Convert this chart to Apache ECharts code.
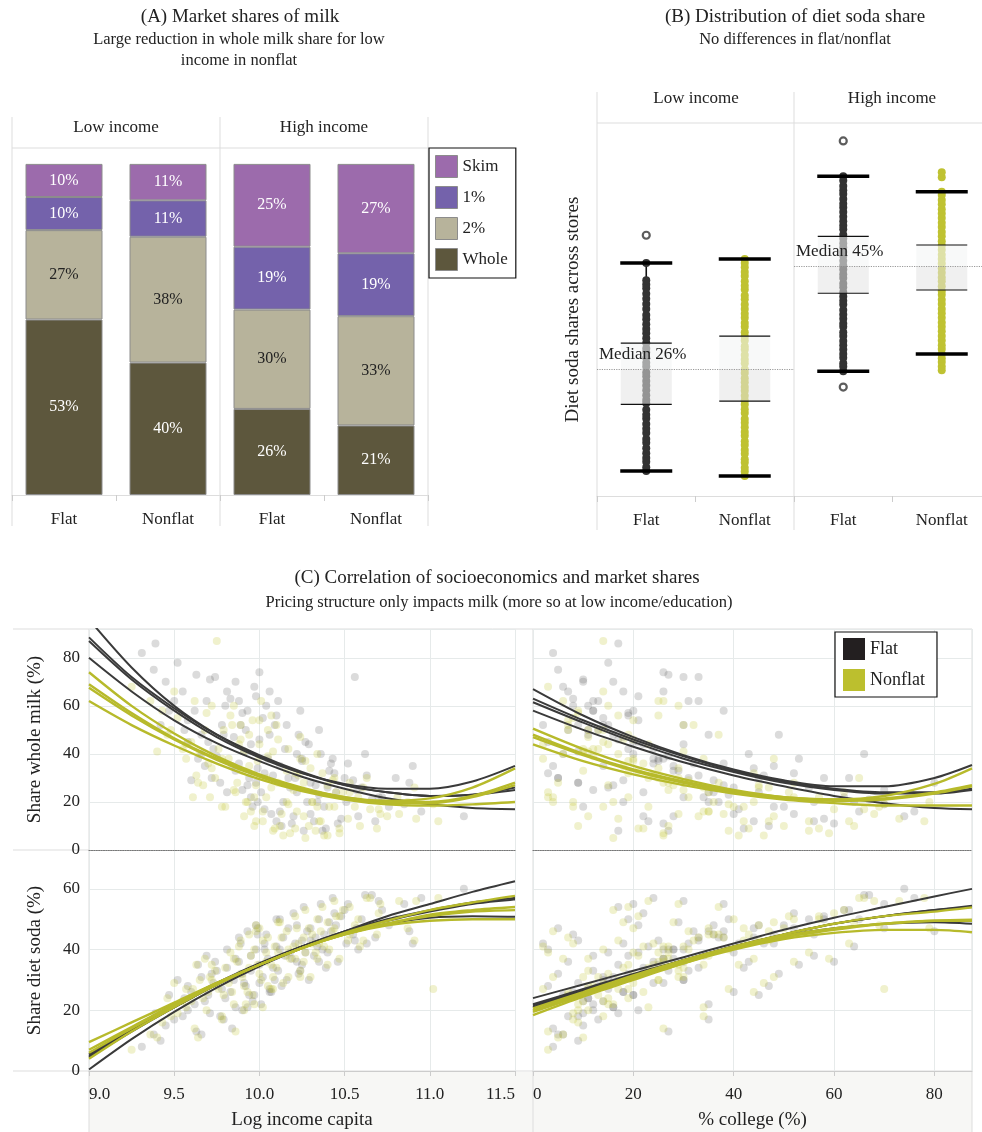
<!DOCTYPE html>
<html><head><meta charset="utf-8">
<script src="https://cdn.jsdelivr.net/npm/echarts@6/dist/echarts.min.js"></script>
<style>html,body{margin:0;padding:0;background:#fff}#c{width:982px;height:1132px}</style>
</head><body><div id="c"></div><script>
const FONT = '"Liberation Serif","Times New Roman",serif';

// ---------- Panel A data ----------
const pricing = ['Flat', 'Nonflat'];
const milkTypes = ['Whole', '2%', '1%', 'Skim'];
const milkLowIncome = [[53, 40], [27, 38], [10, 11], [10, 11]];   // by milkTypes, [Flat, Nonflat]
const milkHighIncome = [[26, 21], [30, 33], [19, 19], [25, 27]];
const milkColors = ['#5d573d', '#b7b39b', '#7462ab', '#9c6bac'];
const milkLabelColors = ['#ffffff', '#222222', '#ffffff', '#ffffff'];

// ---------- Panel B data ----------
const medianLow = 26, medianHigh = 45;
// [min, q1, median, q3, max] for Flat, Nonflat
const sodaBoxLow = [[7.2, 19.5, 26, 30.8, 45.6], [6.3, 20.1, 26, 32.1, 46.3]];
const sodaBoxHigh = [[25.6, 40.0, 45, 50.5, 61.6], [28.8, 40.6, 45, 48.9, 58.7]];
const lowFlatStrip = [7.2, 7.9, 8.9, 9.6, 10.5, 11.4, 12.4, 13.1, 14.2, 15.0, 15.9, 16.9, 17.6, 18.5, 19.7, 20.3, 21.2, 22.1, 23.0, 23.8, 24.7, 25.4, 26.5, 27.2, 28.1, 29.1, 29.8, 30.8, 31.7, 32.6, 33.4, 34.3, 35.2, 36.0, 37.1, 38.0, 39.0, 39.9, 40.9, 41.6, 42.4, 45.6];
const lowFlatOut = [50.7];
const lowNonflatStrip = [6.3, 7.1, 7.8, 8.8, 9.4, 10.4, 11.1, 12.0, 12.7, 13.7, 14.4, 15.3, 16.1, 16.8, 17.9, 18.6, 19.5, 20.2, 21.1, 22.0, 22.7, 23.6, 24.3, 25.3, 26.0, 27.1, 27.8, 28.6, 29.6, 30.2, 31.3, 32.0, 32.8, 33.8, 34.5, 35.5, 36.2, 37.1, 37.9, 38.9, 39.6, 40.7, 41.4, 42.2, 43.2, 43.9, 44.8, 45.6, 46.3];
const highFlatStrip = [25.6, 26.5, 27.1, 28.1, 28.8, 29.6, 30.4, 31.2, 32.1, 32.8, 33.8, 34.4, 35.3, 36.1, 36.9, 37.9, 38.6, 39.4, 40.2, 41.1, 41.8, 42.8, 43.5, 44.4, 45.1, 46.0, 46.9, 47.6, 48.5, 49.2, 50.1, 50.8, 51.8, 52.5, 53.3, 54.1, 55.0, 55.8, 56.5, 57.4, 58.3, 59.0, 59.8, 60.8, 61.6];
const highFlatOut = [68.1, 22.7];
const highNonflatStrip = [25.8, 26.5, 27.3, 28.0, 28.8, 29.7, 30.4, 31.3, 32.1, 33.0, 33.8, 34.6, 35.5, 36.3, 37.1, 38.0, 38.8, 39.7, 40.4, 41.3, 42.2, 42.9, 43.8, 44.6, 45.5, 46.3, 47.1, 48.0, 48.8, 49.6, 50.5, 51.3, 52.2, 53.0, 53.9, 54.7, 55.5, 56.4, 57.2, 58.1, 58.7, 61.4, 62.3];

// ---------- Panel C data ----------
// stores: [log income per capita, % college, whole milk share, diet soda share]
const flatStores = [
[9.62,12,58,22],[9.85,18,47,30],[10.05,26,38,37],[9.95,22,44,33],[10.21,31,30,42],[9.78,15,52,27],[10.33,38,27,44],[9.91,9,41,29],
[10.12,28,35,40],[9.55,7,66,18],[10.45,45,24,48],[9.70,20,45,25],[10.02,14,55,31],[10.28,35,20,46],[9.88,24,36,36],[10.60,55,26,50],
[9.45,10,70,15],[10.15,19,42,38],[9.98,30,28,40],[10.38,48,18,45],[9.80,11,60,24],[10.08,33,31,34],[9.66,16,48,31],[10.25,25,37,43],
[10.72,62,22,53],[9.92,13,50,28],[10.18,40,26,39],[9.58,21,54,20],[10.41,29,33,49],[10.00,17,46,35],[9.75,27,39,33],[10.30,52,15,47],
[9.83,8,63,26],[10.55,36,29,45],[10.10,23,12,41],[9.38,5,75,12],[10.85,70,19,55],[9.95,34,22,38],[10.22,43,40,36],[9.68,14,35,23],
[10.48,58,13,51],[9.90,19,57,32],[10.06,11,48,27],[10.35,39,23,50],[9.73,24,42,29],[10.95,76,16,57],[9.50,13,62,17],[10.14,37,20,44],
[9.86,28,33,37],[10.63,46,31,42],[9.97,6,68,25],[10.27,21,45,39],[9.60,18,29,26],[10.42,32,36,46],[10.03,41,17,42],[9.81,22,24,34],
[11.20,74,14,60],[9.42,9,52,10],[10.19,26,11,37],[10.50,63,30,53],[9.93,16,27,21],[10.76,50,18,48],[9.31,4,82,8],[10.09,30,52,30],
[9.71,10,71,19],[10.37,27,8,40],[9.99,44,34,47],[10.66,67,21,58],[9.64,25,38,35],[10.24,12,58,33],[9.39,17,86,19],[10.56,33,72,43],
[9.52,15,78,30],[9.66,6,40,12],[9.74,30,72,36],[9.77,9,28,18],[9.81,26,66,40],[9.84,4,35,14],[9.88,33,62,44],[9.90,12,25,20],
[9.93,38,58,46],[9.96,10,18,23],[9.98,21,64,48],[10.01,35,24,22],[10.04,8,60,45],[10.07,40,15,26],[10.10,19,56,50],[10.13,47,10,28],
[10.16,14,52,30],[10.20,22,14,52],[10.23,49,48,32],[10.26,17,8,54],[10.29,30,44,30],[10.32,56,12,38],[10.36,20,40,55],[10.39,42,9,34],
[10.43,24,38,57],[10.46,60,11,36],[10.52,38,36,55],[10.58,28,14,40],[10.62,66,40,58],[10.68,44,12,44],[10.80,58,30,50],[10.90,48,35,42],
[9.58,3,45,28],[9.63,27,73,13],[9.69,12,62,38],[9.72,5,30,32],[9.79,35,48,17],[9.86,16,70,21],[9.89,2,52,42],[9.94,45,30,25],
[10.00,26,74,29],[10.03,3,32,40],[10.11,31,62,33],[10.17,5,30,47],[10.22,36,24,48],[10.25,53,38,35],[10.30,9,28,43],[10.34,64,20,41],
[10.40,15,26,39],[10.44,52,32,52],[10.51,18,20,42],[10.57,70,25,47],[10.70,30,22,56],[10.88,80,28,46],[9.47,20,58,25],[9.56,11,50,24],
[9.99,56,20,45],[10.06,18,66,26],[10.12,65,16,50],[10.35,7,50,36]
];
const nonflatStores = [
[9.60,14,45,23],[9.82,20,38,29],[10.04,25,30,36],[9.94,18,35,34],[10.20,30,25,41],[9.76,12,42,27],[10.31,36,20,45],[9.90,10,33,31],
[10.11,27,28,39],[9.52,8,55,19],[10.44,42,18,47],[9.70,22,36,26],[10.00,15,44,32],[10.26,33,14,44],[9.87,26,28,36],[10.58,52,22,50],
[9.43,9,58,16],[10.16,21,33,38],[9.97,31,22,40],[10.36,47,12,46],[9.79,13,50,25],[10.07,34,26,35],[9.65,17,40,30],[10.23,24,31,42],
[10.70,60,17,52],[9.91,11,41,28],[10.17,39,19,40],[9.57,23,44,21],[10.40,28,27,49],[9.99,19,37,35],[9.74,29,30,33],[10.29,50,10,47],
[9.84,7,52,26],[10.53,35,24,45],[10.09,22,9,41],[9.36,6,62,12],[10.82,68,15,56],[9.95,35,16,38],[10.21,44,32,37],[9.67,15,27,24],
[10.47,57,9,51],[9.89,20,46,32],[10.05,12,39,28],[10.34,40,18,50],[9.72,25,34,30],[10.92,73,13,56],[9.48,14,50,18],[10.13,38,15,44],
[9.85,27,25,37],[10.61,45,26,43],[9.96,7,54,25],[10.27,20,37,39],[9.61,19,22,27],[10.43,31,29,46],[10.02,42,12,43],[9.80,23,18,34],
[11.05,78,12,57],[9.40,10,41,11],[10.18,26,7,37],[10.49,62,24,53],[9.92,16,20,22],[10.75,48,14,49],[9.25,3,68,7],[10.08,30,41,31],
[9.69,9,57,20],[10.38,26,6,41],[9.98,45,27,48],[10.65,66,17,57],[9.63,24,31,35],[10.24,11,47,33],[9.75,14,87,28],[11.02,70,19,27],
[9.50,14,66,29],[9.64,5,28,11],[9.72,29,60,35],[9.78,8,18,17],[9.83,25,56,39],[9.86,3,24,13],[9.89,32,52,43],[9.91,11,14,20],
[9.94,37,48,45],[9.97,9,10,22],[10.00,20,54,47],[10.02,34,16,21],[10.05,7,50,44],[10.08,39,8,27],[10.11,18,46,49],[10.14,46,6,29],
[10.17,13,42,31],[10.21,21,9,51],[10.24,48,38,31],[10.27,16,5,53],[10.30,29,34,31],[10.33,55,8,39],[10.37,19,32,54],[10.40,41,6,35],
[10.44,23,30,56],[10.47,59,7,37],[10.53,37,28,54],[10.59,27,10,41],[10.63,65,30,57],[10.69,43,9,45],[10.81,57,22,50],[10.91,47,26,43],
[9.57,2,38,27],[9.62,26,62,14],[9.68,11,50,37],[9.71,4,22,31],[9.78,34,38,18],[9.85,15,60,22],[9.88,2,44,41],[9.93,44,20,26],
[10.01,25,62,30],[10.04,3,22,39],[10.10,30,52,34],[10.16,4,20,46],[10.22,35,16,47],[10.26,52,28,36],[10.31,8,20,42],[10.35,63,12,42],
[10.41,14,18,40],[10.45,51,24,51],[10.52,17,13,43],[10.56,69,18,48],[10.71,29,15,55],[10.87,79,20,47],[9.46,19,48,24],[9.55,10,42,23],
[9.98,55,12,46],[10.07,17,56,27],[10.12,64,10,49],[10.34,6,40,37]
];
// fitted curves read at these x positions
const incomeKnots = [9.0, 9.25, 9.5, 9.75, 10.0, 10.25, 10.5, 10.75, 11.0, 11.25, 11.5];
const collegeKnots = [0, 10, 20, 30, 40, 50, 60, 70, 80, 87.5];
const wholeIncomeFlat = [
  [96, 76, 60, 48, 39, 32, 27.5, 25.5, 25.5, 28.5, 35],
  [88.5, 72, 59, 48, 39.5, 32.5, 27, 24, 22.5, 23, 26],
  [87, 71, 58, 47, 38.5, 32, 27, 24, 22.5, 23, 25],
  [80, 66, 54, 44.5, 37, 30.5, 25.5, 21.5, 19, 17.5, 17]];
const wholeIncomeNonflat = [
  [74, 60, 48.5, 39, 31.5, 26, 22, 20.5, 21.5, 26, 34],
  [69, 57, 46.5, 38, 31, 25.5, 22, 20, 20, 22.5, 28],
  [67.5, 56, 46, 37.5, 30.5, 25, 21.5, 19.5, 19.5, 22, 27],
  [62, 52, 43.5, 36, 29.5, 24.5, 21, 19, 18.5, 19, 20]];
const wholeCollegeFlat = [
  [67, 56, 47, 39.5, 33.5, 29, 26.5, 26.5, 30, 35.4],
  [63, 54, 46, 39, 33, 28.5, 25.5, 24, 24, 25.5],
  [61.5, 53, 45, 38, 32.5, 28, 25, 23.5, 23.5, 25],
  [58, 50, 43, 36.5, 31, 26.5, 22.5, 19.5, 17.5, 17]];
const wholeCollegeNonflat = [
  [50.5, 42, 35, 29.5, 25, 22, 21, 22.5, 27.5, 34],
  [48, 40, 33.5, 28.5, 24.5, 22, 21, 21.5, 24, 27],
  [47, 39.5, 33, 28, 24, 21.5, 20.5, 21, 23.5, 26.5],
  [44, 37, 31.5, 27, 23.5, 21, 19.5, 18.5, 18.5, 18.5]];
const dietIncomeFlat = [
  [0.5, 10.5, 19.5, 27.5, 34.5, 40.5, 46, 51, 55, 59, 62.5],
  [5, 13.5, 21, 28.5, 35, 41, 46, 50, 53, 55.5, 57],
  [4.5, 13, 21, 28.5, 35, 41, 46, 49.5, 52.5, 55, 56.5],
  [5.5, 14, 22, 29, 35.5, 41, 45.5, 48.5, 50.5, 51, 50.8]];
const dietIncomeNonflat = [
  [9.5, 16, 22.5, 29, 35, 40.5, 45.5, 49.5, 53, 55.5, 57.7],
  [7, 14.5, 22, 29, 35, 40.5, 45, 48.5, 51.5, 53, 54],
  [6, 14, 21.5, 28.5, 35, 40.5, 45, 48.5, 51, 52.5, 53],
  [4, 13, 21, 28.5, 35, 40.5, 45, 48, 49.5, 50, 50]];
const dietCollegeFlat = [
  [24, 28.5, 33, 37.5, 42, 46.5, 50.5, 54, 57.5, 60],
  [21.6, 26.5, 31.5, 36.5, 41, 45, 48.5, 51, 53, 54.4],
  [21, 26.5, 31.5, 36.5, 41, 44.5, 47, 48.5, 49, 48.5],
  [22, 27, 32, 36.5, 41, 45, 48.5, 51, 53, 54]];
const dietCollegeNonflat = [
  [20.6, 26, 31.5, 36.5, 41, 45, 48.5, 51, 52.5, 53.9],
  [20, 25.5, 31, 36, 40.5, 44.5, 47, 48.5, 49.5, 49.5],
  [19.5, 25, 30.5, 35.5, 40.5, 44, 46.5, 48.5, 49.5, 49.8],
  [18.4, 24.5, 30, 35.5, 40, 43.5, 45.5, 46.5, 46.5, 45.7]];

const DARK = '#3a3a3a', OLIVE = '#b7ba2b';
const FRAME = '#dddddd';

const chart = echarts.init(document.getElementById('c'));

const grids = [
  {left: 12, top: 148, width: 208, height: 347},
  {left: 220, top: 148, width: 208, height: 347},
  {left: 597, top: 123, width: 197, height: 373},
  {left: 794, top: 123, width: 197, height: 373},
  {left: 89, top: 629, width: 426, height: 221},
  {left: 533, top: 629, width: 439, height: 221},
  {left: 89, top: 850, width: 426, height: 221},
  {left: 533, top: 850, width: 439, height: 221}
].map(g => Object.assign({outerBoundsMode: 'none', containLabel: false}, g));

const catX = (gi) => ({
  type: 'category', gridIndex: gi, data: pricing, boundaryGap: true,
  axisLine: {show: true, lineStyle: {color: FRAME}},
  axisTick: {show: true, length: 6, lineStyle: {color: '#cccccc'}},
  axisLabel: {fontFamily: FONT, fontSize: 17, color: '#222', margin: 16}
});

const xAxes = [
  catX(0), catX(1), catX(2), catX(3),
  {type: 'value', gridIndex: 4, min: 9, max: 11.5, interval: 0.5,
   axisLine: {show: true, onZero: false, lineStyle: {color: '#777', type: 'dotted', width: 1.2}},
   axisTick: {show: false}, axisLabel: {show: false}, splitLine: {show: true, lineStyle: {color: '#e6eaea'}}},
  {type: 'value', gridIndex: 5, min: 0, max: 87.5, interval: 20,
   axisLine: {show: true, onZero: false, lineStyle: {color: '#777', type: 'dotted', width: 1.2}},
   axisTick: {show: false}, axisLabel: {show: false}, splitLine: {show: true, lineStyle: {color: '#e6eaea'}}},
  {type: 'value', gridIndex: 6, min: 9, max: 11.5, interval: 0.5,
   name: 'Log income capita', nameLocation: 'middle', nameGap: 40,
   nameTextStyle: {fontFamily: FONT, fontSize: 19, color: '#222'},
   axisLine: {show: true, onZero: false, lineStyle: {color: '#cccccc'}},
   axisTick: {show: true, length: 5, lineStyle: {color: '#cccccc'}},
   axisLabel: {fontFamily: FONT, fontSize: 17, color: '#222', margin: 15, formatter: v => v.toFixed(1),
               alignMinLabel: 'left', alignMaxLabel: 'right'},
   splitLine: {show: true, lineStyle: {color: '#e6eaea'}}},
  {type: 'value', gridIndex: 7, min: 0, max: 87.5, interval: 20,
   name: '% college (%)', nameLocation: 'middle', nameGap: 40,
   nameTextStyle: {fontFamily: FONT, fontSize: 19, color: '#222'},
   axisLine: {show: true, onZero: false, lineStyle: {color: '#cccccc'}},
   axisTick: {show: true, length: 5, lineStyle: {color: '#cccccc'}},
   axisLabel: {fontFamily: FONT, fontSize: 17, color: '#222', margin: 15, showMaxLabel: false, alignMinLabel: 'left'},
   splitLine: {show: true, lineStyle: {color: '#e6eaea'}}}
];

const hiddenY = (gi, min, max) => ({type: 'value', gridIndex: gi, min, max, show: false, splitLine: {show: false}});
const yAxes = [
  hiddenY(0, 0, 104.8), hiddenY(1, 0, 104.8),
  {type: 'value', gridIndex: 2, min: 2.6, max: 71.4, name: 'Diet soda shares across stores', nameLocation: 'middle', nameGap: 14,
   nameTextStyle: {fontFamily: FONT, fontSize: 19, color: '#222'},
   axisLine: {show: false}, axisTick: {show: false}, axisLabel: {show: false}, splitLine: {show: false}},
  hiddenY(3, 2.6, 71.4),
  {type: 'value', gridIndex: 4, min: 0, max: 92, interval: 20,
   name: 'Share whole milk (%)', nameLocation: 'middle', nameGap: 44,
   nameTextStyle: {fontFamily: FONT, fontSize: 19, color: '#222'},
   axisLine: {show: false}, axisTick: {show: false},
   axisLabel: {fontFamily: FONT, fontSize: 17, color: '#222', margin: 9, showMaxLabel: false},
   splitLine: {show: true, lineStyle: {color: '#e6eaea'}}},
  {type: 'value', gridIndex: 5, min: 0, max: 92, interval: 20, axisLine: {show: false}, axisTick: {show: false},
   axisLabel: {show: false}, splitLine: {show: true, lineStyle: {color: '#e6eaea'}}},
  {type: 'value', gridIndex: 6, min: 0, max: 72.8, interval: 20,
   name: 'Share diet soda (%)', nameLocation: 'middle', nameGap: 44,
   nameTextStyle: {fontFamily: FONT, fontSize: 19, color: '#222'},
   axisLine: {show: false}, axisTick: {show: false},
   axisLabel: {fontFamily: FONT, fontSize: 17, color: '#222', margin: 9, showMaxLabel: false},
   splitLine: {show: true, lineStyle: {color: '#e6eaea'}}},
  {type: 'value', gridIndex: 7, min: 0, max: 72.8, interval: 20, axisLine: {show: false}, axisTick: {show: false},
   axisLabel: {show: false}, splitLine: {show: true, lineStyle: {color: '#e6eaea'}}}
];

const series = [];

// Panel A bars
[milkLowIncome, milkHighIncome].forEach((facet, fi) => {
  milkTypes.forEach((t, ti) => {
    series.push({
      type: 'bar', name: t, stack: 'milk' + fi, xAxisIndex: fi, yAxisIndex: fi,
      barWidth: 77, data: facet[ti],
      itemStyle: {color: milkColors[ti], borderColor: '#8c8c8c', borderWidth: 1},
      label: {show: true, position: 'inside', formatter: p => p.value + '%',
              fontFamily: FONT, fontSize: 16, color: milkLabelColors[ti]}
    });
  });
});

// Panel B
function whiskerItem(params, api) {
  const x = api.value(0);
  const a = api.coord([x, api.value(1)]);
  const b = api.coord([x, api.value(5)]);
  return {type: 'line', shape: {x1: a[0], y1: a[1], x2: b[0], y2: b[1]}, style: {stroke: '#111', lineWidth: 1.6}};
}
function boxItem(params, api) {
  const x = api.value(0);
  const pMin = api.coord([x, api.value(1)]);
  const pQ1 = api.coord([x, api.value(2)]);
  const pMed = api.coord([x, api.value(3)]);
  const pQ3 = api.coord([x, api.value(4)]);
  const pMax = api.coord([x, api.value(5)]);
  const cx = pMin[0], hw = 25.5, cw = 26;
  return {type: 'group', children: [
    {type: 'rect', shape: {x: cx - hw, y: pQ3[1], width: 2 * hw, height: pMed[1] - pQ3[1]},
     style: {fill: 'rgba(244,245,245,0.6)'}},
    {type: 'rect', shape: {x: cx - hw, y: pMed[1], width: 2 * hw, height: pQ1[1] - pMed[1]},
     style: {fill: 'rgba(228,228,228,0.55)'}},
    {type: 'line', shape: {x1: cx - hw, y1: pQ3[1], x2: cx + hw, y2: pQ3[1]}, style: {stroke: '#111', lineWidth: 1.2}},
    {type: 'line', shape: {x1: cx - hw, y1: pQ1[1], x2: cx + hw, y2: pQ1[1]}, style: {stroke: '#111', lineWidth: 1.2}},
    {type: 'line', shape: {x1: cx - cw, y1: pMax[1], x2: cx + cw, y2: pMax[1]}, style: {stroke: '#000', lineWidth: 3.5}},
    {type: 'line', shape: {x1: cx - cw, y1: pMin[1], x2: cx + cw, y2: pMin[1]}, style: {stroke: '#000', lineWidth: 3.5}}
  ]};
}
const medLine = (v) => ({
  silent: true, symbol: ['none', 'none'], animation: false,
  lineStyle: {type: 'dotted', color: '#9a9a9a', width: 1.2},
  label: {show: true, position: 'insideStartTop', formatter: 'Median ' + v + '%',
          fontFamily: FONT, fontSize: 17, color: '#222', distance: [2, 6]},
  data: [{yAxis: v}]
});
[[sodaBoxLow, lowFlatStrip, lowFlatOut, lowNonflatStrip, medianLow],
 [sodaBoxHigh, highFlatStrip, highFlatOut, highNonflatStrip, medianHigh]].forEach((f, k) => {
  const gi = 2 + k;
  const boxes = f[0].map((b, i) => [i, ...b]);
  series.push({type: 'custom', xAxisIndex: gi, yAxisIndex: gi, z: 1, renderItem: whiskerItem, data: boxes});
  series.push({type: 'scatter', name: 'strip flat ' + k, xAxisIndex: gi, yAxisIndex: gi, z: 2, symbolSize: 8,
               itemStyle: {color: '#333333', opacity: 1}, data: f[1].map(v => [0, v]), markLine: medLine(f[4])});
  series.push({type: 'scatter', name: 'strip out ' + k, xAxisIndex: gi, yAxisIndex: gi, z: 2, symbolSize: 7,
               itemStyle: {color: '#ffffff', borderColor: '#333', borderWidth: 2.2}, data: f[2].map(v => [0, v])});
  series.push({type: 'scatter', name: 'strip nonflat ' + k, xAxisIndex: gi, yAxisIndex: gi, z: 2, symbolSize: 8,
               itemStyle: {color: '#bfc232', opacity: 1}, data: f[3].map(v => [1, v])});
  series.push({type: 'custom', xAxisIndex: gi, yAxisIndex: gi, z: 3, renderItem: boxItem, data: boxes});
});

// Panel C
const panels = [
  {gi: 4, xi: 0, yi: 2, knots: incomeKnots, fits: [wholeIncomeFlat, wholeIncomeNonflat]},
  {gi: 5, xi: 1, yi: 2, knots: collegeKnots, fits: [wholeCollegeFlat, wholeCollegeNonflat]},
  {gi: 6, xi: 0, yi: 3, knots: incomeKnots, fits: [dietIncomeFlat, dietIncomeNonflat]},
  {gi: 7, xi: 1, yi: 3, knots: collegeKnots, fits: [dietCollegeFlat, dietCollegeNonflat]}
];
panels.forEach(p => {
  series.push({type: 'scatter', name: 'Flat', xAxisIndex: p.gi, yAxisIndex: p.gi, symbolSize: 8, z: 2,
               itemStyle: {color: '#4a4a4a', opacity: 0.2}, data: flatStores.map(s => [s[p.xi], s[p.yi]])});
  series.push({type: 'scatter', name: 'Nonflat', xAxisIndex: p.gi, yAxisIndex: p.gi, symbolSize: 8, z: 2,
               itemStyle: {color: '#c4c83c', opacity: 0.26}, data: nonflatStores.map(s => [s[p.xi], s[p.yi]])});
});
panels.forEach(p => {
  p.fits.forEach((group, gIdx) => {
    group.forEach(fit => {
      series.push({type: 'line', name: gIdx === 0 ? 'Flat' : 'Nonflat', xAxisIndex: p.gi, yAxisIndex: p.gi,
                   z: 4, smooth: 0.3, showSymbol: false, symbol: 'none', clip: true,
                   lineStyle: {color: gIdx === 0 ? DARK : OLIVE, width: gIdx === 0 ? 2 : 2.4},
                   itemStyle: {color: gIdx === 0 ? DARK : OLIVE},
                   data: p.knots.map((x, i) => [x, fit[i]])});
    });
  });
});

const txt = (text, x, y, size, extra) => Object.assign({
  type: 'text', x, y, silent: true,
  style: {text, fontFamily: FONT, fontSize: size, fill: '#222', align: 'center', verticalAlign: 'middle'}
}, extra || {});
const ln = (x1, y1, x2, y2, color) => ({type: 'line', silent: true, z: 0,
  shape: {x1, y1, x2, y2}, style: {stroke: color || FRAME, lineWidth: 1}});

const graphic = [
  {type: 'rect', silent: true, z: -1, shape: {x: 89, y: 1072, width: 883, height: 60}, style: {fill: '#f7f7f5'}},
  txt('(A) Market shares of milk', 240, 17, 19),
  txt('Large reduction in whole milk share for low', 239, 40, 16.5),
  txt('income in nonflat', 239, 61, 16.5),
  txt('Low income', 116, 128, 17), txt('High income', 324, 128, 17),
  ln(12, 117, 12, 526), ln(220, 117, 220, 526), ln(428, 117, 428, 526), ln(12, 148, 428, 148),
  txt('(B) Distribution of diet soda share', 795, 17, 19),
  txt('No differences in flat/nonflat', 795, 40, 16.5),
  txt('Low income', 696, 99, 17), txt('High income', 892, 99, 17),
  ln(597, 92, 597, 530), ln(794, 92, 794, 530), ln(597, 123, 982, 123),
  txt('(C) Correlation of socioeconomics and market shares', 497, 578, 19),
  txt('Pricing structure only impacts milk (more so at low income/education)', 499, 603, 16.5),
  ln(13, 629, 972, 629), ln(13, 850, 89, 850), ln(13, 1071, 972, 1071),
  ln(89, 629, 89, 1132), ln(533, 629, 533, 1132), ln(972, 629, 972, 1132)
];

chart.setOption({
  animation: false,
  backgroundColor: '#ffffff',
  grid: grids,
  xAxis: xAxes,
  yAxis: yAxes,
  legend: [
    {left: 429, top: 148, orient: 'vertical', itemWidth: 22, itemHeight: 22, itemGap: 8,
     padding: [7, 8, 7, 6], borderColor: '#111', borderWidth: 1.2, backgroundColor: '#fff',
     selectedMode: false, icon: 'rect',
     itemStyle: {borderColor: '#8c8c8c', borderWidth: 1},
     textStyle: {fontFamily: FONT, fontSize: 17, color: '#222'},
     data: ['Skim', '1%', '2%', 'Whole']},
    {left: 835, top: 632, orient: 'vertical', itemWidth: 22, itemHeight: 22, itemGap: 9,
     padding: [6, 12, 6, 8], borderColor: '#111', borderWidth: 1.2, backgroundColor: '#fff',
     selectedMode: false, icon: 'rect',
     textStyle: {fontFamily: FONT, fontSize: 18, color: '#222'},
     data: [{name: 'Flat', itemStyle: {color: '#231f20', opacity: 1}},
            {name: 'Nonflat', itemStyle: {color: '#bcbf2e', opacity: 1}}]}
  ],
  graphic: graphic,
  series: series
});
</script></body></html>
